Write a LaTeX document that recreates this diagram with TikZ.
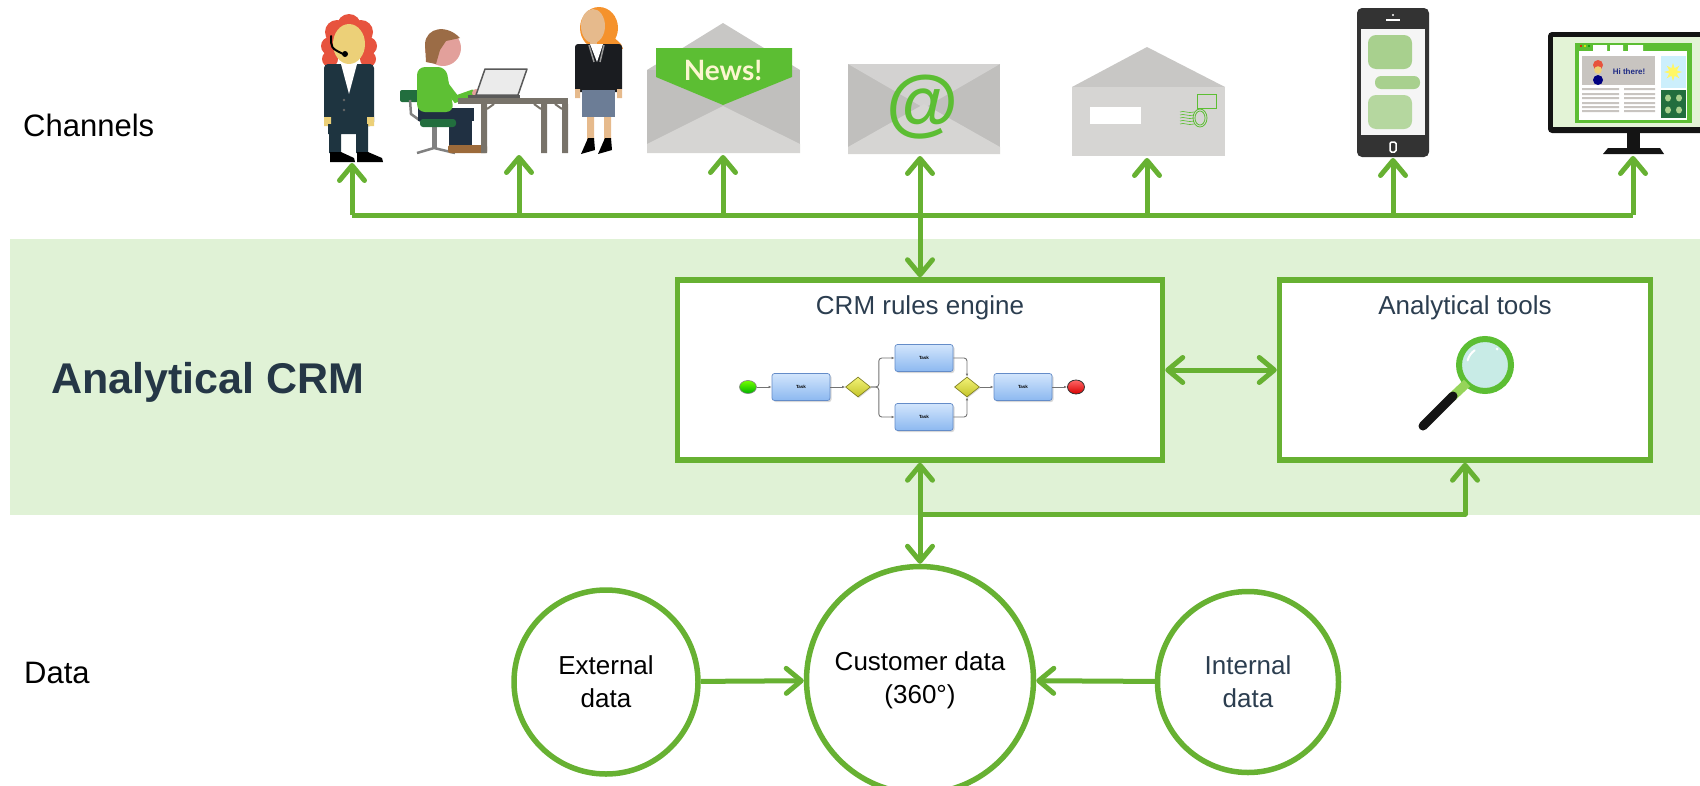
\documentclass[tikz,border=0pt]{standalone}
\usepackage{fontspec}
\setmainfont{Liberation Sans}
\newfontfamily\newsfont{Lato}
\usetikzlibrary{arrows.meta,shapes.geometric,shadows,positioning}

\definecolor{linegreen}{RGB}{103,177,50}
\definecolor{icongreen}{RGB}{92,190,51}
\definecolor{bandgreen}{RGB}{224,242,214}
\definecolor{crmnavy}{RGB}{37,55,70}
\definecolor{titleink}{RGB}{44,62,80}
\definecolor{hairred}{RGB}{231,83,62}
\definecolor{skinyellow}{RGB}{236,208,120}
\definecolor{suitteal}{RGB}{30,52,64}
\definecolor{chairgreen}{RGB}{34,110,62}
\definecolor{sweater}{RGB}{94,192,52}
\definecolor{hairbrown}{RGB}{155,108,70}
\definecolor{skinpink}{RGB}{226,160,155}
\definecolor{pantsnavy}{RGB}{32,48,66}
\definecolor{shoebrown}{RGB}{156,106,58}
\definecolor{deskgray}{RGB}{120,115,106}
\definecolor{hairorange}{RGB}{245,146,44}
\definecolor{skintan}{RGB}{230,186,140}
\definecolor{jacketblack}{RGB}{26,28,32}
\definecolor{skirtblue}{RGB}{108,125,150}
\definecolor{envflap}{RGB}{200,199,197}
\definecolor{envside}{RGB}{192,191,189}
\definecolor{envlight}{RGB}{214,213,211}
\definecolor{newscream}{RGB}{252,246,208}
\definecolor{phonegray}{RGB}{51,51,51}
\definecolor{bubble}{RGB}{168,208,142}
\definecolor{screengreen}{RGB}{227,243,214}
\definecolor{pagegray}{RGB}{200,196,192}
\definecolor{lensblue}{RGB}{200,235,230}
\definecolor{handlegreen}{RGB}{150,212,90}
\definecolor{taskhi}{RGB}{210,229,252}
\definecolor{tasklo}{RGB}{140,184,240}
\definecolor{taskedge}{RGB}{100,140,200}
\definecolor{gatehi}{RGB}{242,242,120}
\definecolor{gatelo}{RGB}{196,196,40}

\begin{document}
\begin{tikzpicture}[x=1pt, y=-1pt, >={Straight Barb[length=15pt,width=25pt,round]},
    link/.style={draw=linegreen, line width=5pt, line join=round},
    panel/.style={draw=linegreen, line width=5.5pt, fill=white, minimum width=485pt, minimum height=180pt},
    boxtitle/.style={anchor=base, text=titleink, font=\fontsize{26}{30}\selectfont},
    sidelabel/.style={anchor=west, inner sep=0pt, font=\fontsize{31}{36}\selectfont},
    datanode/.style={circle, draw=linegreen, line width=5.5pt, fill=white, align=center, font=\fontsize{26}{33}\selectfont},
    taskbox/.style={rectangle, rounded corners=2.5pt, draw=taskedge, line width=.7pt, top color=taskhi, bottom color=tasklo,
        minimum width=58pt, minimum height=27pt, inner sep=0pt, font=\bfseries\fontsize{4.5}{5}\selectfont,
        drop shadow={shadow xshift=1.5pt, shadow yshift=-1.5pt, opacity=.3}},
    gate/.style={diamond, draw=black!40!gatelo, line width=.6pt, top color=gatehi, bottom color=gatelo,
        minimum width=25pt, minimum height=20pt, inner sep=0pt, drop shadow={shadow xshift=1pt, shadow yshift=-1pt, opacity=.3}},
    flow/.style={draw=black!55, line width=.9pt, -{Latex[length=3pt,width=2.5pt]}, rounded corners=3pt}]
\useasboundingbox (0,0) rectangle (1700,785);

\fill[bandgreen] (10,239) rectangle (1700,515);

\node[sidelabel] (channels) at (23,125) {Channels};
\node[sidelabel, text=crmnavy, font=\bfseries\fontsize{43}{50}\selectfont] (crm) at (51,382) {Analytical CRM};
\node[sidelabel] (data) at (24,673) {Data};

% agent with headset
\fill[hairred] (349,26) circle (12) (337,32) circle (12) (361,32) circle (12) (330,46) circle (9) (368,46) circle (9) (330,59) circle (8) (368,59) circle (8);
\fill[skinyellow] (349,44) ellipse (16 and 20);
\draw[black, line width=2pt, line cap=round] (331,36) .. controls (331,48) .. (343,54);
\fill[black] (345,54) circle (3);
\fill[suitteal, rounded corners=4pt] (324,64) rectangle (374,126);
\fill[white] (341,64) -- (357,64) -- (349,94) -- cycle;
\fill[black!60] (344,100) circle (1.3) (344,110) circle (1.3);
\fill[skinyellow] (324,117) rectangle (331,126) (367,117) rectangle (374,126);
\fill[suitteal] (328,124) rectangle (368,134) (329,134) rectangle (341,153) (356,134) rectangle (368,153);
\fill[black] (330,152) -- (341,152) -- (354,158) -- (355,162) -- (330,162) -- cycle;
\fill[black] (357,152) -- (368,152) -- (382,158) -- (383,162) -- (357,162) -- cycle;

% worker at the desk
\fill[chairgreen, rounded corners=2pt] (400,90) rectangle (422,102);
\draw[gray, line width=2.5pt] (410,100) -- (411,114) -- (422,122);
\fill[gray] (432,126) rectangle (437,148);
\draw[gray, line width=2.5pt] (417,153) -- (434,148) -- (455,153);
\fill[pantsnavy] (418,108) rectangle (474,121);
\fill[pantsnavy] (449,118) rectangle (472,147);
\fill[shoebrown, rounded corners=1.5pt] (448,145) rectangle (487,153);
\fill[chairgreen, rounded corners=3pt] (420,119) rectangle (456,127);
\fill[sweater, rounded corners=8pt] (417,67) -- (446,67) -- (454,112) -- (417,112) -- cycle;
\draw[sweater, line width=7pt, line cap=round] (440,78) -- (456,99) -- (473,93);
\fill[skinpink] (476,93) circle (4);
\fill[skinpink] (443,48) circle (18);
\fill[hairbrown] (425,44) .. controls (426,27) and (447,24) .. (460,38) -- (446,41) -- (440,50) -- (436,64) -- (426,62) -- cycle;
\fill[deskgray] (458,98) rectangle (568,104);
\fill[deskgray] (481,104) rectangle (487,153) (541,104) rectangle (547,153) (562,104) rectangle (568,153);
\draw[deskgray, line width=2pt] (487,109) -- (494,104) (541,109) -- (534,104) (562,109) -- (555,104);
\filldraw[fill=black!8, draw=black!65, line width=1.5pt, line join=round] (476,95) -- (485,69) -- (527,69) -- (518,95) -- cycle;
\fill[black!65] (468,95) rectangle (520,98);

% businesswoman
\fill[hairorange] (599,28) ellipse (19 and 21);
\fill[hairorange] (606,30) -- (621,44) -- (623,49) -- (612,47) -- cycle;
\fill[skintan] (593,26) ellipse (12 and 17);
\fill[skintan] (590,38) rectangle (597,48);
\fill[jacketblack, rounded corners=3pt] (575,44) rectangle (622,92);
\fill[white] (590,44) -- (603,44) -- (597,62) -- cycle;
\draw[gray!80, line width=1.5pt] (589,45) -- (594,62) (604,45) -- (600,62);
\fill[skintan] (575,89) rectangle (580,98) (617,89) rectangle (622,98);
\fill[skirtblue] (582,90) rectangle (615,117);
\fill[skintan] (587,117) rectangle (594,140) (604,117) rectangle (611,140);
\fill[black] (588,138) -- (594,138) -- (595,150) -- (581,154) -- cycle;
\fill[black] (605,138) -- (611,138) -- (612,150) -- (598,154) -- cycle;

% newsletter
\fill[envflap] (647,70) -- (723,23) -- (800,70) -- cycle;
\fill[envside] (647,70) rectangle (800,153);
\fill[icongreen] (656,48) -- (792,48) -- (792,77) -- (723,105) -- (656,77) -- cycle;
\fill[envlight] (647,153) -- (647,144) -- (723,106) -- (800,144) -- (800,153) -- cycle;
\node[anchor=base, inner sep=0pt, text=newscream, font=\newsfont\bfseries\fontsize{28}{30}\selectfont] (newstext) at (723,80) {News!};

% e-mail
\fill[envside] (848,64) rectangle (1000,154);
\fill[envflap!80!white] (848,64) -- (1000,64) -- (924,108) -- cycle;
\fill[envlight] (848,154) -- (848,147) -- (924,104) -- (1000,147) -- (1000,154) -- cycle;
\node[anchor=base, inner sep=0pt, text=icongreen, font=\bfseries\fontsize{74}{78}\selectfont] (atsign) at (923,127) {@};

% letter
\fill[envflap] (1072,87) -- (1147,47) -- (1225,87) -- cycle;
\fill[envlight] (1072,87) rectangle (1225,156);
\fill[white] (1090,107) rectangle (1141,124);
\draw[icongreen, line width=.8pt] (1197,94) rectangle (1216,108);
\draw[icongreen, line width=.8pt] (1200,118) ellipse (7 and 9) (1200,118) ellipse (5 and 7);
\foreach \w in {112,115,118,121,124}
  \draw[icongreen, line width=.6pt] (1180,\w) .. controls (1184,\w-2) and (1188,\w+2) .. (1194,\w);

% phone
\fill[phonegray, rounded corners=5pt] (1357,8) rectangle (1429,157);
\fill[white!96!black] (1361,29) rectangle (1425,135);
\fill[bubble, rounded corners=8pt] (1368,35) rectangle (1412,69);
\fill[bubble, rounded corners=6pt] (1375,76) rectangle (1420,89);
\fill[bubble!85!white, rounded corners=8pt] (1368,95) rectangle (1412,129);
\draw[white, line width=1.5pt, rounded corners=1.5pt] (1390,142) rectangle (1396,152);
\fill[white] (1386,19) rectangle (1400,21);
\fill[white] (1393,15) circle (1.2);

% monitor
\begin{scope}
\clip (1540,0) rectangle (1700,785);
\fill[black!92, rounded corners=4pt] (1548,32) rectangle (1712,133);
\fill[screengreen] (1553,37) rectangle (1710,127);
\fill[icongreen] (1575,43) rectangle (1692,123);
\fill[white] (1579,51) rectangle (1687,120);
\fill[white] (1593,45) rectangle (1607,51) (1610,45) rectangle (1623,51) (1628,45) rectangle (1643,51);
\fill[red] (1581,46) circle (1.2);
\fill[yellow] (1585,46) circle (1.2);
\fill[green!60!black] (1589,46) circle (1.2);
\fill[pagegray] (1582,56) rectangle (1655,85);
\fill[blue!50!black] (1598,80) ellipse (5 and 5);
\fill[hairred] (1598,65) circle (5);
\fill[skinyellow] (1598,70) circle (3.8);
\node[text=titleink!70!blue, inner sep=0pt, font=\bfseries\fontsize{8}{9}\selectfont] (greeting) at (1629,72) {Hi there!};
\fill[cyan!20!white] (1661,56) rectangle (1686,88);
\node[star, star points=8, star point ratio=2.2, fill=yellow!60, inner sep=0pt, minimum size=18pt] (sun) at (1673,72) {};
\fill[chairgreen] (1661,90) rectangle (1686,118);
\fill[bubble] (1668,98) ellipse (3 and 3.5) (1679,98) ellipse (3 and 3.5) (1668,110) ellipse (3 and 3.5) (1679,110) ellipse (3 and 3.5);
\foreach \r in {88,93,97,102,106,110}
  \fill[pagegray] (1582,\r) rectangle (1619,\r+2.2) (1624,\r) rectangle (1655,\r+2.2);
\fill[black!92] (1627,133) rectangle (1640,148);
\fill[black!92] (1608,148) -- (1660,148) -- (1664,154) -- (1603,154) -- cycle;
\end{scope}

% analytical layer
\node[panel] (rules) at (920,370) {};
\node[panel, minimum width=371pt] (tools) at (1465,370) {};
\node[boxtitle] (rulestitle) at (920,314) {CRM rules engine};
\node[boxtitle] (toolstitle) at (1465,314) {Analytical tools};

\node[ellipse, draw=black!50, line width=.6pt, inner sep=0pt, minimum width=17pt, minimum height=13pt,
      top color=green!55!yellow, bottom color=green!70!black] (start) at (748,387) {};
\node[taskbox] (t1) at (801,387) {Task};
\node[gate] (g1) at (858,387) {};
\node[taskbox] (t2) at (924,358) {Task};
\node[taskbox] (t3) at (924,417) {Task};
\node[gate] (g2) at (967,387) {};
\node[taskbox] (t4) at (1023,387) {Task};
\node[ellipse, draw=black!80, line width=.8pt, inner sep=0pt, minimum width=17pt, minimum height=14pt,
      top color=red!60!white, bottom color=red!85!black] (stop) at (1076,387) {};
\draw[flow] (start) -- (t1);
\draw[flow] (t1) -- (g1);
\draw[flow] (g1.east) -- ++(8,0) |- (t2.west);
\draw[flow] (g1.east) -- ++(8,0) |- (t3.west);
\draw[flow] (t2.east) -| (g2.north);
\draw[flow] (t3.east) -| (g2.south);
\draw[flow] (g2) -- (t4);
\draw[flow] (t4) -- (stop);

\fill[lensblue] (1485,365) circle (24);
\draw[icongreen, line width=6pt] (1485,365) circle (26);
\draw[white, line width=2pt, line cap=round] (1485,365) ++(195:18) arc (195:235:18);
\fill[white] (1497,349) circle (1.5);
\draw[handlegreen, line width=9pt] (1467,383) -- (1451,398);
\draw[black!92, line width=9pt, line cap=round] (1453,396) -- (1423,426);

% data layer
\node[datanode, minimum size=184pt] (ext) at (606,682) {External\\data};
\node[datanode, minimum size=227pt] (cust) at (920,680) {Customer data\\(360°)};
\node[datanode, minimum size=181pt, text=titleink] (int) at (1248,682) {Internal\\data};

% connectors
\coordinate (agent) at (352,163);
\coordinate (worker) at (519,155);
\coordinate (news) at (723,155);
\coordinate (email) at (920,156);
\coordinate (post) at (1147,158);
\coordinate (phone) at (1393,158);
\coordinate (screen) at (1633,156);
\coordinate (busL) at (352,215);
\coordinate (busR) at (1633,215);
\coordinate (split) at (920,514);

\draw[link] (busL) -- (busR);
\draw[link,->] (busL) -- (agent);
\foreach \c in {worker,news,post,phone}
  \draw[link,->] (\c |- busL) -- (\c);
\draw[link,->] (busR) -- (screen);
\draw[link,<->] (rules.north) -- (email);
\draw[link,<->] (rules.east) -- (tools.west);
\draw[link,<->] (rules.south) -- (cust.north);
\draw[link,->] (split) -| (tools.south);
\draw[link,->] (ext) -- (cust);
\draw[link,->] (int) -- (cust);
\end{tikzpicture}
\end{document}
